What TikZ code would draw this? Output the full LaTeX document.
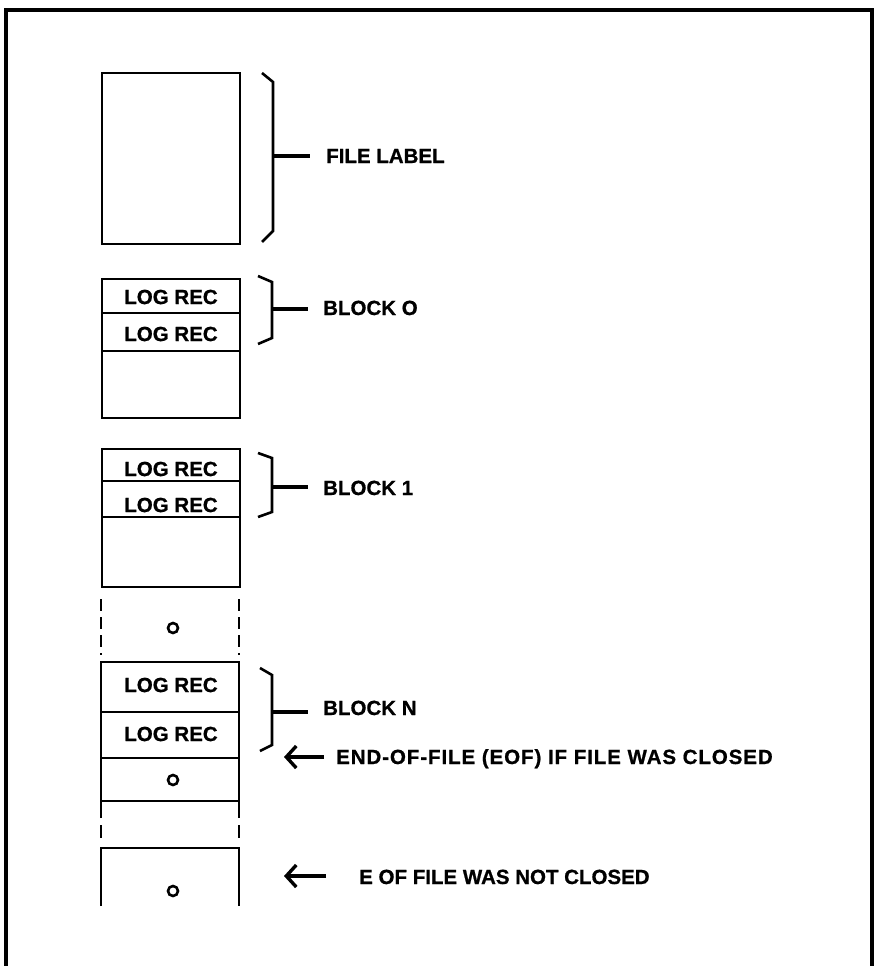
\documentclass[tikz,border=0pt]{standalone}
\usepackage{fontspec}
\setmainfont{Liberation Sans}[BoldFeatures={FakeBold=0.8}]
\usetikzlibrary{arrows.meta}
\begin{document}
\begin{tikzpicture}[x=1pt,y=-1pt,
  lbl/.style={font=\fontsize{20.5}{24}\selectfont\bfseries, anchor=base west, inner sep=0pt},
  rec/.style={font=\fontsize{20.5}{24}\selectfont\bfseries, inner sep=0pt},
  boxln/.style={line width=2.4pt},
  brc/.style={line width=2.6pt},
  tickln/.style={line width=3.2pt},
  arr/.style={line width=3.4pt, -{Straight Barb[length=10pt,width=22pt,line width=3.4pt]}},
  dot/.style={circle, draw, line width=2.6pt, minimum size=10pt, inner sep=0pt},
  dashv/.style={line width=2.4pt, dash pattern=on 12pt off 6pt}]
\useasboundingbox (0,0) rectangle (877,966);
% frame
\draw[line width=3.4pt] (6,966) -- (6,10) -- (872,10) -- (872,966);

% ---------- file label ----------
\node[draw, boxln, minimum width=138pt, minimum height=171pt, anchor=north west, inner sep=0pt] (flbox) at (101,72) {};
\draw[brc] (262,73) -- (273,82) -- (273,231) -- (262,242);
\coordinate (flm) at (273,156);
\node[lbl] (fl) at (326,163) {FILE LABEL};
\draw[tickln] (flm) -- (310,156);

% ---------- block 0 ----------
\node[draw, boxln, minimum width=138pt, minimum height=139pt, anchor=north west, inner sep=0pt] (b0) at (101,278) {};
\draw[boxln] (101,313) -- (239,313);
\draw[boxln] (101,351) -- (239,351);
\node[rec] (b0r1) at (171,297) {LOG REC};
\node[rec] (b0r2) at (171,334) {LOG REC};
\draw[brc] (258,276) -- (272,282) -- (272,338) -- (258,344);
\coordinate (b0m) at (272,309);
\node[lbl] (b0l) at (323,315) {BLOCK O};
\draw[tickln] (b0m) -- (308,309);

% ---------- block 1 ----------
\node[draw, boxln, minimum width=138pt, minimum height=138pt, anchor=north west, inner sep=0pt] (b1) at (101,448) {};
\draw[boxln] (101,481) -- (239,481);
\draw[boxln] (101,517) -- (239,517);
\node[rec] (b1r1) at (171,469) {LOG REC};
\node[rec] (b1r2) at (171,505) {LOG REC};
\draw[brc] (258,453) -- (272,458) -- (272,512) -- (258,517);
\coordinate (b1m) at (272,487);
\node[lbl] (b1l) at (323,495) {BLOCK 1};
\draw[tickln] (b1m) -- (308,487);

% ---------- gap ----------
\draw[dashv] (101,599) -- (101,655);
\draw[dashv] (239,599) -- (239,655);
\node[dot] (gd) at (173,628) {};

% ---------- block N ----------
\draw[boxln] (101,818) -- (101,662) -- (239,662) -- (239,818);
\draw[boxln] (101,712) -- (239,712);
\draw[boxln] (101,758) -- (239,758);
\draw[boxln] (101,801) -- (239,801);
\node[rec] (bnr1) at (171,685) {LOG REC};
\node[rec] (bnr2) at (171,734) {LOG REC};
\node[dot] (bnd) at (173,780) {};
\draw[brc] (260,668) -- (272,675) -- (272,745) -- (260,751);
\coordinate (bnm) at (272,712);
\node[lbl] (bnl) at (323,715) {BLOCK N};
\draw[tickln] (bnm) -- (308,712);

% EOF arrow
\node[lbl, font=\fontsize{20.5}{24}\selectfont\bfseries\addfontfeatures{LetterSpace=4.5}] (eof) at (336,764) {END-OF-FILE (EOF) IF FILE WAS CLOSED};
\coordinate (eoft) at (324,757);
\coordinate (eofh) at (284,757);
\draw[arr] (eoft) -- (eofh);

% ---------- dashed continuation + last block ----------
\draw[boxln] (101,825) -- (101,838);
\draw[boxln] (239,825) -- (239,838);
\draw[boxln] (101,906) -- (101,848) -- (239,848) -- (239,906);
\node[dot] (lsd) at (173,891) {};

\node[lbl] (nc) at (359,884) {E OF FILE WAS NOT CLOSED};
\coordinate (nct) at (326,876);
\coordinate (nch) at (284,876);
\draw[arr] (nct) -- (nch);
\end{tikzpicture}
\end{document}
